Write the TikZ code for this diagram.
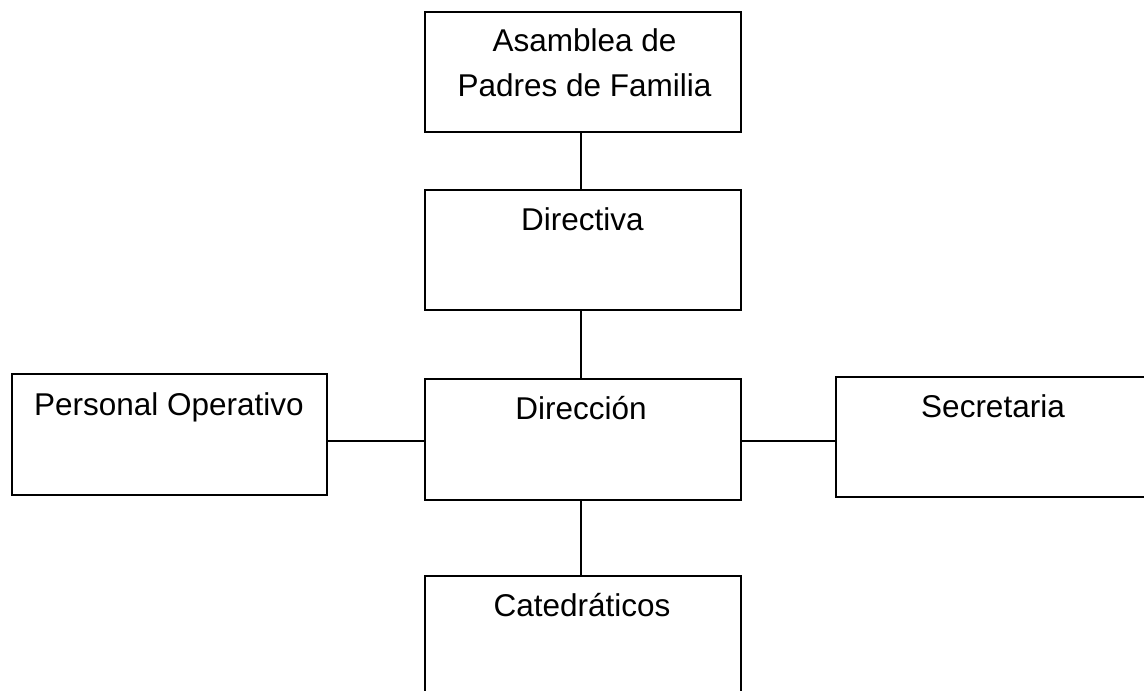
\documentclass[tikz,border=0pt]{standalone}
\usepackage{fontspec}
\setmainfont{Liberation Sans}
\begin{document}
\begin{tikzpicture}[x=1pt,y=-1pt,
  orgbox/.style={draw=black,line width=2pt,rectangle,minimum width=316pt,minimum height=120pt,inner sep=0pt,fill=none},
  lbl/.style={anchor=base,inner sep=0pt,font=\fontsize{31.5}{38}\selectfont},
  conn/.style={draw=black,line width=2pt}]
\useasboundingbox (0,0) rectangle (1144,691);
\begin{scope}
\clip (0,0) rectangle (1144,691);
\node[orgbox] (asam) at (583,71.7) {};
\node[orgbox] (dirv) at (583,249.5) {};
\node[orgbox,minimum height=121pt] (dirc) at (583,439.5) {};
\node[orgbox,minimum width=315pt,minimum height=121pt] (pers) at (169.2,434.5) {};
\node[orgbox] (secr) at (994,437) {};
\node[orgbox] (cate) at (583,635.5) {};
\end{scope}
\node[lbl] (asamt1) at (584.5,51.7) {Asamblea de};
\node[lbl] (asamt2) at (584.5,96.7) {Padres de Familia};
\node[lbl] (dirvt) at (582.5,230) {Directiva};
\node[lbl] (dirct) at (581,419.5) {Dirección};
\node[lbl] (perst) at (169,415) {Personal Operativo};
\node[lbl] (secrt) at (993,417) {Secretaria};
\node[lbl] (catet) at (582,616) {Catedráticos};
\coordinate (vx) at (580.5,0);
\coordinate (hy) at (0,440.7);
\draw[conn] (asam.south -| vx) -- (dirv.north -| vx);
\draw[conn] (dirv.south -| vx) -- (dirc.north -| vx);
\draw[conn] (dirc.south -| vx) -- (cate.north -| vx);
\draw[conn] (pers.east |- hy) -- (dirc.west |- hy);
\draw[conn] (dirc.east |- hy) -- (secr.west |- hy);
\end{tikzpicture}
\end{document}
